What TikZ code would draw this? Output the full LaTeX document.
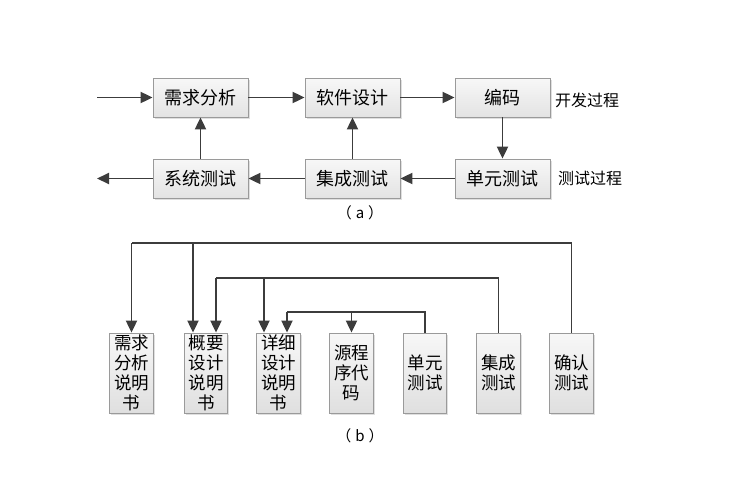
\documentclass[tikz,border=0pt]{standalone}
\usepackage{fontspec}
\newfontfamily\cjk{Noto Sans CJK SC}
\usetikzlibrary{arrows.meta,calc,shadows}
\definecolor{linec}{HTML}{3C3C3C}
\definecolor{boxline}{HTML}{9A9A9A}
\tikzset{
  abox/.style={draw=boxline, line width=0.8pt, top color=white!97!black, bottom color=gray!22,
    minimum width=95pt, minimum height=39pt, inner sep=0pt,
    font=\cjk\fontsize{18}{20}\selectfont,
    drop shadow={shadow xshift=1.5pt, shadow yshift=-1.5pt, opacity=0.25}},
  bbox/.style={draw=boxline, line width=0.8pt, top color=white!97!black, bottom color=gray!25,
    minimum width=43.5pt, minimum height=80pt, inner sep=0pt, align=center,
    font=\cjk\fontsize{17.5}{20}\selectfont,
    drop shadow={shadow xshift=1.5pt, shadow yshift=-1.5pt, opacity=0.25}},
  arr/.style={draw=linec, line width=1.9pt, -{Triangle[length=12pt,width=11pt]}},
  ln/.style={draw=linec, line width=1.9pt},
  lbl/.style={font=\cjk\fontsize{16}{18}\selectfont, anchor=west, inner sep=0pt},
  captext/.style={font=\cjk\fontsize{15}{18}\selectfont, inner sep=0pt}
}
\begin{document}
\begin{tikzpicture}[x=1pt,y=-1pt]
\useasboundingbox (0,0) rectangle (739,488);
% (a)
\node[abox] (xq) at (200.5,97.5) {需求分析};
\node[abox] (rj) at (352.5,97.5) {软件设计};
\node[abox] (bm) at (502.5,97.5) {编码};
\node[abox] (xt) at (200.5,178.5) {系统测试};
\node[abox] (jc) at (352.5,178.5) {集成测试};
\node[abox] (dy) at (502.5,178.5) {单元测试};
\coordinate (in) at (97,97.5);
\coordinate (out) at (97,178.5);
\draw[arr] (in) -- (xq);
\draw[arr] (xq) -- (rj);
\draw[arr] (rj) -- (bm);
\draw[arr] (bm) -- (dy);
\draw[arr] (dy) -- (jc);
\draw[arr] (jc) -- (xt);
\draw[arr] (xt) -- (out);
\draw[arr] (xt) -- (xq);
\draw[arr] (jc) -- (rj);
\node[lbl] (kf) at (555,100) {开发过程};
\node[lbl] (cs) at (558,178) {测试过程};
\node[captext] (ca) at (360,213) {（\hspace{4pt}a\hspace{4pt}）};
% (b)
\node[bbox] (b1) at (131.5,373) {需求\\分析\\说明\\书};
\node[bbox] (b2) at (206,373) {概要\\设计\\说明\\书};
\node[bbox] (b3) at (278.5,373) {详细\\设计\\说明\\书};
\node[bbox] (b4) at (351.5,373) {源程\\序代\\码};
\node[bbox] (b5) at (425,373) {单元\\测试};
\node[bbox] (b6) at (498.5,373) {集成\\测试};
\node[bbox] (b7) at (571.5,373) {确认\\测试};
% attach points
\coordinate (b2l) at ($(b2.north)+(-13,0)$);
\coordinate (b2r) at ($(b2.north)+(10,0)$);
\coordinate (b3l) at ($(b3.north)+(-14.5,0)$);
\coordinate (b3r) at ($(b3.north)+(8.5,0)$);
\coordinate (t1) at (131.5,243);
\coordinate (t2) at (216,278);
\coordinate (t3) at (287,312);
\draw[ln] (b7.north) |- (t1);
\draw[arr] (t1) -- (b1.north);
\draw[arr] (b2l |- t1) -- (b2l);
\draw[ln] (b6.north) |- (t2);
\draw[arr] (t2) -- (b2r);
\draw[arr] (b3l |- t2) -- (b3l);
\draw[ln] (b5.north) |- (t3);
\draw[arr] (t3) -- (b3r);
\draw[arr] (b4.north |- t3) -- (b4.north);
\node[captext] (cb) at (360,436) {（\hspace{4pt}b\hspace{4pt}）};
\end{tikzpicture}
\end{document}
